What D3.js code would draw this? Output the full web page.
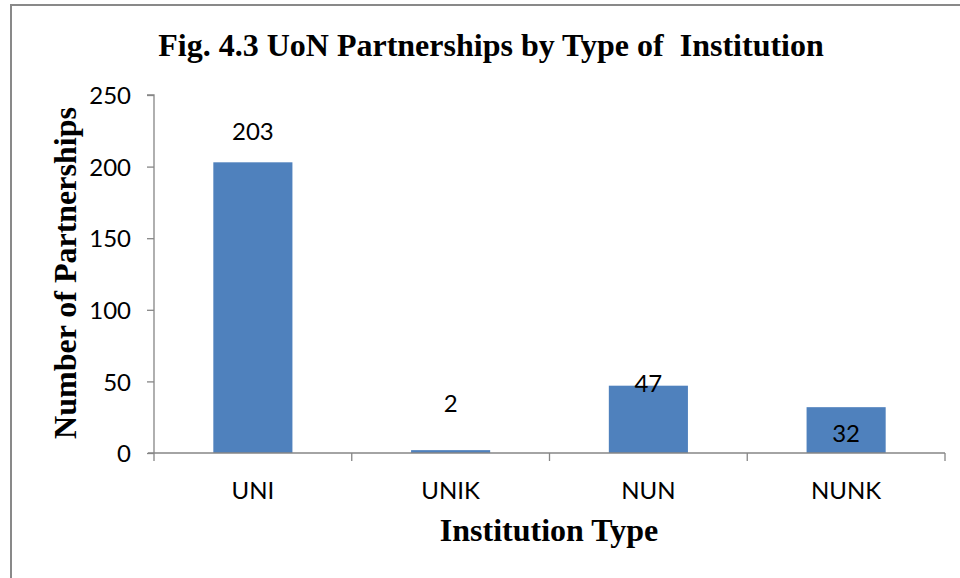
<!DOCTYPE html>
<html><head><meta charset="utf-8">
<script src="https://cdn.jsdelivr.net/npm/d3@7"></script>
<style>body{margin:0;background:#fff}svg{display:block}</style>
</head><body>
<script>
const categories = ["UNI", "UNIK", "NUN", "NUNK"];
const values = [203, 2, 47, 32];
const yTicks = [0, 50, 100, 150, 200, 250];
// label offsets (Excel placement quirks), in value units relative to bar top
const labelOffsets = [17, 28, -3, -23];

(function () {
const W = 960, H = 578;
const svg = d3.select("body").append("svg").attr("width", W).attr("height", H);
const sansFont = "Lato, 'Open Sans', sans-serif";
const serifFont = "'Liberation Serif', 'Times New Roman', serif";

// outer frame (only top/left visible)
svg.append("rect").attr("x", 11).attr("y", 5).attr("width", 980).attr("height", 600)
  .attr("fill", "none").attr("stroke", "#898989").attr("stroke-width", 2);

const pLeft = 154, pRight = 945, pTop = 95, pBottom = 453;
const x = d3.scaleBand().domain(categories).range([pLeft, pRight]).paddingInner(0.6).paddingOuter(0.3);
const y = d3.scaleLinear().domain([0, 250]).range([pBottom, pTop]);

svg.selectAll("rect.bar").data(values).enter().append("rect").attr("class", "bar")
  .attr("x", (d, i) => x(categories[i]))
  .attr("y", d => y(d))
  .attr("width", x.bandwidth())
  .attr("height", d => y(0) - y(d))
  .attr("fill", "#4F81BD");

// y axis
const yAxis = svg.append("g").attr("transform", `translate(${pLeft},0)`)
  .call(d3.axisLeft(y).tickValues(yTicks).tickSize(7).tickPadding(16));
yAxis.select(".domain").attr("stroke", "#868686").attr("stroke-width", 1.3).attr("d", `M-7,${pTop}H0V${pBottom}`);
yAxis.selectAll(".tick line").attr("stroke", "#868686").attr("stroke-width", 1.3);
yAxis.selectAll(".tick text").attr("font-family", sansFont).attr("font-size", 24).attr("fill", "#000").attr("dy", "0.36em");

// x axis
const xOuter = d3.scaleLinear().domain([0, categories.length]).range([pLeft, pRight]);
const xg = svg.append("g").attr("transform", `translate(0,${pBottom})`);
xg.append("line").attr("x1", pLeft - 6).attr("x2", pRight).attr("y1", 0).attr("y2", 0)
  .attr("stroke", "#868686").attr("stroke-width", 1.5);
xg.selectAll("line.t").data(d3.range(categories.length + 1)).enter().append("line").attr("class", "t")
  .attr("x1", d => xOuter(d)).attr("x2", d => xOuter(d)).attr("y1", 0).attr("y2", 8)
  .attr("stroke", "#868686").attr("stroke-width", 1.3);
xg.selectAll("text").data(categories).enter().append("text")
  .attr("x", d => x(d) + x.bandwidth() / 2).attr("y", 46)
  .attr("text-anchor", "middle").attr("font-family", sansFont).attr("font-size", 24)
  .text(d => d);

// data labels
svg.selectAll("text.lbl").data(values).enter().append("text").attr("class", "lbl")
  .attr("x", (d, i) => x(categories[i]) + x.bandwidth() / 2)
  .attr("y", (d, i) => y(d + labelOffsets[i]) + 2)
  .attr("text-anchor", "middle").attr("font-family", sansFont).attr("font-size", 24)
  .text(d => d);

// titles
svg.append("text").attr("x", 491).attr("y", 56).attr("text-anchor", "middle")
  .attr("font-family", serifFont).attr("font-weight", "bold").attr("font-size", 32)
  .style("white-space", "pre")
  .text("Fig. 4.3 UoN Partnerships by Type of  Institution");
svg.append("text").attr("transform", "translate(76,273) rotate(-90)").attr("text-anchor", "middle")
  .attr("font-family", serifFont).attr("font-weight", "bold").attr("font-size", 32)
  .text("Number of Partnerships");
svg.append("text").attr("x", 549).attr("y", 541).attr("text-anchor", "middle")
  .attr("font-family", serifFont).attr("font-weight", "bold").attr("font-size", 32)
  .text("Institution Type");
})();
</script>
</body></html>
